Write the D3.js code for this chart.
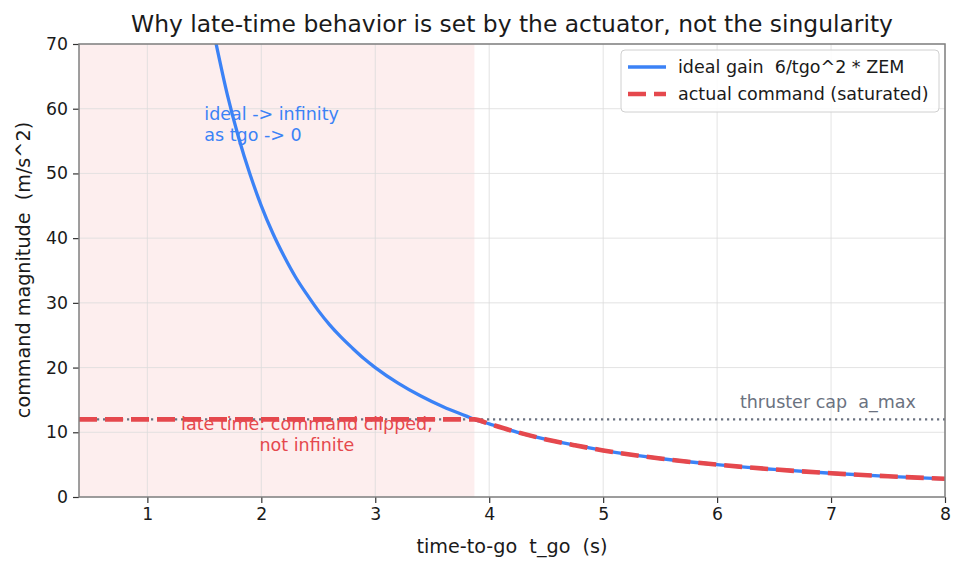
<!DOCTYPE html>
<html>
<head>
<meta charset="utf-8">
<script src="https://cdn.jsdelivr.net/npm/d3@7"></script>
<style>
  body { margin: 0; background: #fff; }
  text { font-family: "DejaVu Sans", sans-serif; white-space: pre; }
</style>
</head>
<body>
<svg id="chart"></svg>
<script>
// values
const tgo   = [1.6, 1.7, 1.8, 1.9, 2.0, 2.1, 2.2, 2.3, 2.4, 2.5, 2.6, 2.7, 2.8, 2.9, 3.0, 3.2, 3.4, 3.6, 3.8, 3.87, 4.0, 4.25, 4.5, 4.75, 5.0, 5.5, 6.0, 6.5, 7.0, 7.5, 8.0]
const ideal = [70.3, 62.3, 55.6, 49.9, 45.0, 40.8, 37.2, 34.0, 31.3, 28.8, 26.6, 24.7, 23.0, 21.4, 20.0, 17.6, 15.6, 13.9, 12.5, 12.0, 11.3, 10.0, 8.9, 8.0, 7.2, 5.95, 5.0, 4.26, 3.67, 3.2, 2.81]
const aMax = 12
const tCross = 3.87
const xTicks = [1, 2, 3, 4, 5, 6, 7, 8]
const yTicks = [0, 10, 20, 30, 40, 50, 60, 70]

const W = 965, H = 572
const margin = {top: 44, right: 20, bottom: 75, left: 79}
const iw = 945 - margin.left, ih = 497 - margin.top

const blue = '#3b82f6', red = '#e5484d', gray = '#6b7280'

const svg = d3.select('#chart').attr('width', W).attr('height', H)

const x = d3.scaleLinear().domain([0.4, 8]).range([0, iw])
const y = d3.scaleLinear().domain([0, 70]).range([ih, 0])

const g = svg.append('g').attr('transform', `translate(${margin.left},${margin.top})`)

svg.append('defs').append('clipPath').attr('id', 'clip')
  .append('rect').attr('width', iw).attr('height', ih)

// late-time shading
g.append('rect')
  .attr('x', x(0.4)).attr('y', 0)
  .attr('width', x(tCross) - x(0.4)).attr('height', ih)
  .attr('fill', '#fdeeee')

// grid
g.append('g').selectAll('line').data(xTicks).enter().append('line')
  .attr('x1', d => x(d)).attr('x2', d => x(d)).attr('y1', 0).attr('y2', ih)
  .attr('stroke', '#dcdcdc').attr('stroke-width', 0.8)
g.append('g').selectAll('line').data(yTicks).enter().append('line')
  .attr('y1', d => y(d)).attr('y2', d => y(d)).attr('x1', 0).attr('x2', iw)
  .attr('stroke', '#dcdcdc').attr('stroke-width', 0.8)

const plot = g.append('g').attr('clip-path', 'url(#clip)')

const idealPts = tgo.map((t, i) => ({t, v: ideal[i]}))
const actualPts = [{t: 0.4, v: aMax}].concat(idealPts.filter(d => d.t >= tCross))

const line = d3.line().x(d => x(d.t)).y(d => y(d.v)).curve(d3.curveMonotoneX)

// thruster cap
plot.append('line')
  .attr('x1', x(0.4)).attr('x2', x(8)).attr('y1', y(aMax)).attr('y2', y(aMax))
  .attr('stroke', gray).attr('stroke-width', 2.2).attr('stroke-dasharray', '2.2,3.8')

plot.append('path').datum(idealPts)
  .attr('d', line).attr('fill', 'none')
  .attr('stroke', blue).attr('stroke-width', 3.3)

plot.append('path').datum(actualPts)
  .attr('d', line).attr('fill', 'none')
  .attr('stroke', red).attr('stroke-width', 4.6)
  .attr('stroke-dasharray', '18,8')

// axes
const xAxis = g.append('g').attr('transform', `translate(0,${ih})`)
  .call(d3.axisBottom(x).tickValues(xTicks).tickSize(6).tickPadding(5))
const yAxis = g.append('g')
  .call(d3.axisLeft(y).tickValues(yTicks).tickSize(6).tickPadding(5))
for (const ax of [xAxis, yAxis]) {
  ax.select('.domain').remove()
  ax.selectAll('line').attr('stroke', '#333').attr('stroke-width', 1.2)
  ax.selectAll('text').attr('font-size', 17.3).attr('fill', '#1a1a1a')
    .attr('font-family', '"DejaVu Sans", sans-serif')
}

// frame
g.append('rect').attr('width', iw).attr('height', ih)
  .attr('fill', 'none').attr('stroke', '#808080').attr('stroke-width', 1.5)

// titles
svg.append('text').attr('x', 512).attr('y', 32).attr('text-anchor', 'middle')
  .attr('font-size', 23.4).attr('fill', '#1a1a1a')
  .text('Why late-time behavior is set by the actuator, not the singularity')
svg.append('text').attr('x', 512).attr('y', 553).attr('text-anchor', 'middle')
  .attr('font-size', 19.2).attr('fill', '#1a1a1a')
  .text('time-to-go  t_go  (s)')
svg.append('text').attr('transform', 'translate(30,270) rotate(-90)').attr('text-anchor', 'middle')
  .attr('font-size', 19.2).attr('fill', '#1a1a1a')
  .text('command magnitude  (m/s^2)')

// annotations
const note1 = g.append('text').attr('font-size', 17.5).attr('fill', blue)
note1.append('tspan').attr('x', x(1.5)).attr('y', y(58.3)).text('ideal -> infinity')
note1.append('tspan').attr('x', x(1.5)).attr('y', y(55.0)).text('as tgo -> 0')

const note2 = g.append('text').attr('font-size', 17.5).attr('fill', red).attr('text-anchor', 'middle')
note2.append('tspan').attr('x', x(2.4)).attr('y', y(10.35)).text('late time: command clipped,')
note2.append('tspan').attr('x', x(2.4)).attr('y', y(7.1)).text('not infinite')

g.append('text').attr('x', x(6.2)).attr('y', y(13.75)).attr('font-size', 17.5).attr('fill', gray)
  .text('thruster cap  a_max')

// legend
const lg = svg.append('g').attr('transform', 'translate(621,50)')
lg.append('rect').attr('width', 318).attr('height', 62).attr('rx', 4)
  .attr('fill', 'white').attr('fill-opacity', 0.85).attr('stroke', '#d0d0d0')
const items = [
  {label: 'ideal gain  6/tgo^2 * ZEM', color: blue, w: 3.3, dash: null},
  {label: 'actual command (saturated)', color: red, w: 4.6, dash: '18,8'}
]
items.forEach((d, i) => {
  const yy = 17 + i * 27
  lg.append('line').attr('x1', 7).attr('x2', 45).attr('y1', yy).attr('y2', yy)
    .attr('stroke', d.color).attr('stroke-width', d.w).attr('stroke-dasharray', d.dash)
  lg.append('text').attr('x', 57).attr('y', yy + 6).attr('font-size', 17.5).attr('fill', '#1a1a1a')
    .text(d.label)
})
</script>
</body>
</html>
